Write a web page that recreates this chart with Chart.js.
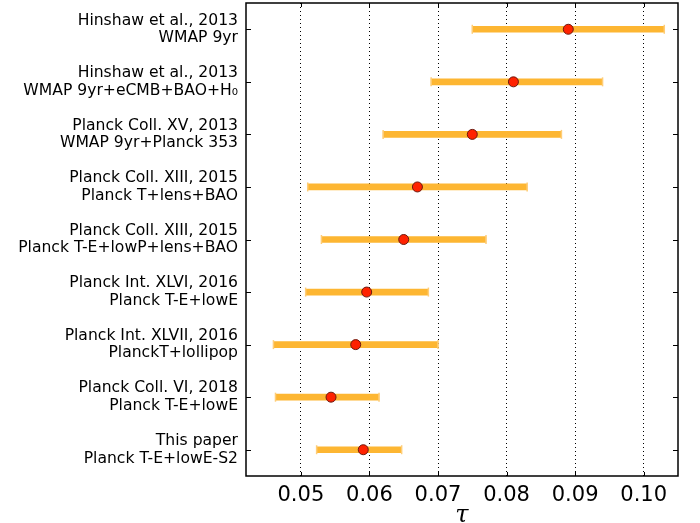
<!DOCTYPE html>
<html>
<head>
<meta charset="utf-8">
<script src="https://cdn.jsdelivr.net/npm/chart.js@4/dist/chart.umd.min.js"></script>
<style>
  html, body { margin: 0; padding: 0; background: #fff; }
  #wrap { width: 700px; height: 523px; }
</style>
</head>
<body>
<div id="wrap"><canvas id="chart"></canvas></div>
<script>
// measurements of tau, top to bottom
var refs = [
    ['Hinshaw et al., 2013', 'WMAP 9yr'],
    ['Hinshaw et al., 2013', 'WMAP 9yr+eCMB+BAO+H\u2080'],
    ['Planck Coll. XV, 2013', 'WMAP 9yr+Planck 353'],
    ['Planck Coll. XIII, 2015', 'Planck T+lens+BAO'],
    ['Planck Coll. XIII, 2015', 'Planck T-E+lowP+lens+BAO'],
    ['Planck Int. XLVI, 2016', 'Planck T-E+lowE'],
    ['Planck Int. XLVII, 2016', 'PlanckT+lollipop'],
    ['Planck Coll. VI, 2018', 'Planck T-E+lowE'],
    ['This paper', 'Planck T-E+lowE-S2']
];
var tau   = [0.089, 0.081, 0.075, 0.067, 0.065, 0.0596, 0.058, 0.0544, 0.0591];
var tauLo = [0.075, 0.069, 0.062, 0.051, 0.053, 0.0507, 0.046, 0.0463, 0.0523];
var tauHi = [0.103, 0.094, 0.088, 0.083, 0.077, 0.0686, 0.070, 0.0614, 0.0647];
var xTicks = [0.05, 0.06, 0.07, 0.08, 0.09, 0.10];

var orange = 'rgb(253,182,50)';

// inward ticks on all four sides + black frame
var frame = {
    id: 'frame',
    afterDraw: function (chart) {
        var c = chart.ctx, a = chart.chartArea;
        var xs = chart.scales.x, ys = chart.scales.y;
        c.save();
        c.strokeStyle = '#000';
        c.lineWidth = 1;
        c.beginPath();
        xTicks.forEach(function (v) {
            var px = Math.round(xs.getPixelForValue(v)) + 0.5;
            c.moveTo(px, a.top); c.lineTo(px, a.top + 4);
            c.moveTo(px, a.bottom); c.lineTo(px, a.bottom - 4);
        });
        refs.forEach(function (r, i) {
            var py = Math.round(ys.getPixelForValue(i)) + 0.5;
            c.moveTo(a.left, py); c.lineTo(a.left + 5, py);
            c.moveTo(a.right, py); c.lineTo(a.right - 5, py);
        });
        c.stroke();
        c.lineWidth = 1.5;
        c.strokeRect(a.left, a.top, a.right - a.left, a.bottom - a.top);
        c.restore();
    }
};

new Chart(document.getElementById('chart'), {
    type: 'bar',
    data: {
        labels: refs,
        datasets: [{
            type: 'line',
            data: tau,
            showLine: false,
            pointRadius: 5,
            pointBackgroundColor: '#ff2200',
            pointBorderColor: '#6b1a10',
            pointBorderWidth: 1,
            order: 0
        }, {
            type: 'line',
            data: tauLo,
            showLine: false,
            pointStyle: 'line',
            pointRotation: 90,
            pointRadius: 4.5,
            pointBorderColor: 'rgb(254,205,120)',
            pointBorderWidth: 1.5,
            order: 1
        }, {
            type: 'line',
            data: tauHi,
            showLine: false,
            pointStyle: 'line',
            pointRotation: 90,
            pointRadius: 4.5,
            pointBorderColor: 'rgb(254,205,120)',
            pointBorderWidth: 1.5,
            order: 1
        }, {
            data: tauLo.map(function (lo, i) { return [lo, tauHi[i]]; }),
            backgroundColor: orange,
            barThickness: 6,
            borderSkipped: false,
            order: 2
        }]
    },
    options: {
        indexAxis: 'y',
        responsive: true,
        maintainAspectRatio: false,
        animation: false,
        events: [],
        layout: { autoPadding: false, padding: { left: 0, right: 22, top: 3, bottom: 0 } },
        plugins: { legend: { display: false }, tooltip: { enabled: false } },
        scales: {
            x: {
                type: 'linear',
                min: 0.042,
                max: 0.105,
                afterBuildTicks: function (s) {
                    s.ticks = xTicks.map(function (v) { return { value: v }; });
                },
                afterFit: function (s) {
                    s.height = 47;
                    s.paddingLeft = 0; s.paddingRight = 0;
                },
                grid: { color: '#000', lineWidth: 1, drawTicks: false },
                border: { display: false, dash: [1, 3] },
                ticks: {
                    color: '#000',
                    padding: 7,
                    font: { family: 'DejaVu Sans', size: 21 },
                    callback: function (v) { return v.toFixed(2); }
                },
                title: {
                    display: true,
                    text: '\u03c4',
                    color: '#000',
                    padding: { top: 0, bottom: -4 },
                    font: { family: 'DejaVu Serif', style: 'italic', size: 24, lineHeight: 0.9 }
                }
            },
            y: {
                afterFit: function (s) {
                    s.width = 246;
                    s.paddingTop = 0; s.paddingBottom = 0;
                },
                grid: { display: false, drawTicks: false },
                border: { display: false },
                ticks: {
                    color: '#000',
                    padding: 8,
                    font: { family: 'DejaVu Sans', size: 15.6, lineHeight: 1.12 }
                }
            }
        }
    },
    plugins: [frame]
});
</script>
</body>
</html>
